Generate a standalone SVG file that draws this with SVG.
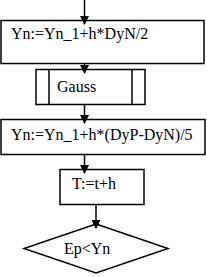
<svg xmlns="http://www.w3.org/2000/svg" width="207" height="277" viewBox="0 0 207 277">
<style>
.b{fill:#fff;stroke:#000;stroke-width:1.5}
.l{stroke:#000;stroke-width:1.5;fill:none}
.t{font-family:"Liberation Serif",serif;font-size:16px;fill:#000}
</style>
<defs>
<marker id="a" markerWidth="9" markerHeight="9" refX="8" refY="4.5" orient="auto" markerUnits="userSpaceOnUse">
<path d="M0,0 L9,4.5 L0,9 Z" fill="#000"/>
</marker>
</defs>
<rect width="207" height="277" fill="#fff"/>
<g id="n1"><rect class="b" x="1" y="20.5" width="203" height="43"/><text class="t" x="11" y="39">Yn:=Yn_1+h*DyN/2</text></g>
<g id="n2"><rect class="b" x="36" y="69.5" width="109" height="35"/><line class="l" x1="49" y1="69.5" x2="49" y2="104.5"/><line class="l" x1="132" y1="69.5" x2="132" y2="104.5"/><text class="t" x="57" y="92">Gauss</text></g>
<g id="n3"><rect class="b" x="1" y="119.5" width="204" height="35"/><text class="t" x="11" y="140">Yn:=Yn_1+h*(DyP-DyN)/5</text></g>
<g id="n4"><rect class="b" x="60" y="169.5" width="84" height="35"/><text class="t" x="72" y="189">T:=t+h</text></g>
<g id="n5"><polygon class="b" points="96,224 168,248.5 96,273 24,248.5"/><text class="t" x="64" y="254">Ep&lt;Yn</text></g>
<g id="edges">
<line class="l" x1="84.5" y1="0" x2="84.5" y2="24" marker-end="url(#a)"/>
<line class="l" x1="84.5" y1="63.5" x2="84.5" y2="73" marker-end="url(#a)"/>
<line class="l" x1="84.5" y1="104.5" x2="84.5" y2="123" marker-end="url(#a)"/>
<line class="l" x1="84.5" y1="154.5" x2="84.5" y2="173" marker-end="url(#a)"/>
<line class="l" x1="96" y1="204.5" x2="96" y2="228" marker-end="url(#a)"/>
</g>
</svg>
